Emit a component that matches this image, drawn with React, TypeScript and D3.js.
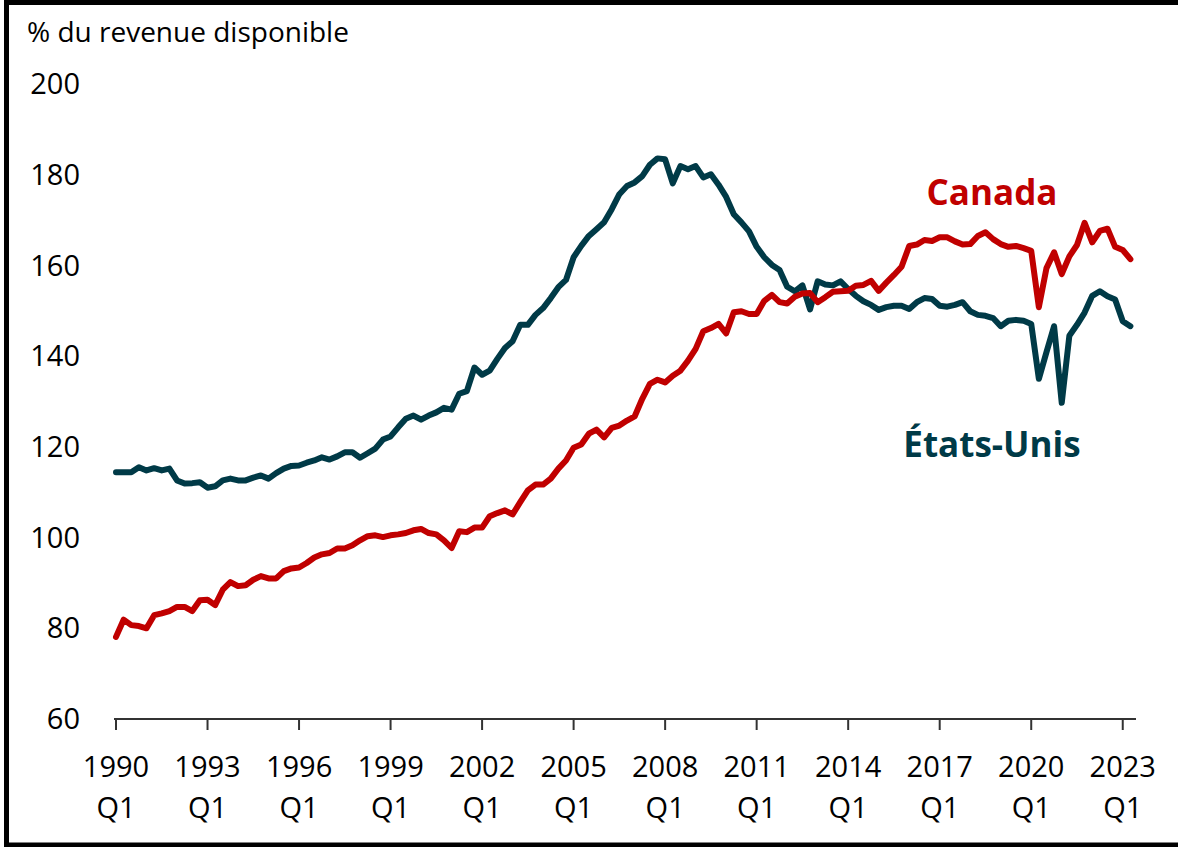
import React from 'react';
import * as d3 from 'd3';

// quarterly categories, 1990Q1 .. 2023Q2
const quarters: string[] = d3.range(1990, 2024).flatMap((y) => [1, 2, 3, 4].map((q) => `${y}Q${q}`)).slice(0, 134);

const tickYears = ['1990', '1993', '1996', '1999', '2002', '2005', '2008', '2011', '2014', '2017', '2020', '2023'];
const yTicks = [60, 80, 100, 120, 140, 160, 180, 200];

const canada = [
  78.1, 81.9, 80.7, 80.5, 80.0, 82.9, 83.3, 83.8, 84.7, 84.7,
  83.8, 86.2, 86.3, 85.1, 88.5, 90.2, 89.3, 89.5, 90.7, 91.5,
  91.0, 91.0, 92.6, 93.2, 93.4, 94.4, 95.6, 96.3, 96.6, 97.6,
  97.6, 98.3, 99.4, 100.3, 100.5, 100.1, 100.5, 100.7, 101.0, 101.6,
  101.9, 101.0, 100.7, 99.4, 97.7, 101.4, 101.2, 102.2, 102.2, 104.7,
  105.4, 106.0, 105.1, 107.8, 110.4, 111.7, 111.7, 113.0, 115.2, 117.0,
  119.8, 120.5, 122.9, 123.8, 122.1, 124.2, 124.7, 125.8, 126.7, 130.6,
  133.9, 134.8, 134.2, 135.7, 136.8, 139.0, 141.6, 145.5, 146.2, 147.1,
  145.0, 149.7, 149.9, 149.3, 149.3, 152.2, 153.5, 151.9, 151.6, 153.1,
  153.8, 153.9, 151.9, 153.0, 154.2, 154.3, 154.4, 155.5, 155.7, 156.6,
  154.4, 156.2, 157.9, 159.7, 164.3, 164.6, 165.6, 165.4, 166.2, 166.2,
  165.3, 164.6, 164.7, 166.5, 167.3, 165.8, 164.7, 164.1, 164.3, 163.8,
  163.2, 150.8, 159.4, 162.9, 158.1, 162.0, 164.5, 169.4, 165.1, 167.6,
  168.1, 164.1, 163.4, 161.4,
];

const usa = [
  114.4, 114.4, 114.4, 115.5, 114.8, 115.3, 114.8, 115.2, 112.6, 111.9,
  112.0, 112.2, 111.0, 111.3, 112.6, 113.0, 112.6, 112.6, 113.2, 113.7,
  113.0, 114.2, 115.2, 115.8, 115.9, 116.5, 117.0, 117.7, 117.2, 117.9,
  118.8, 118.8, 117.6, 118.6, 119.6, 121.6, 122.3, 124.3, 126.2, 126.9,
  126.0, 126.9, 127.6, 128.6, 128.2, 131.7, 132.3, 137.5, 135.9, 136.8,
  139.4, 141.8, 143.3, 146.9, 146.9, 149.1, 150.6, 152.8, 155.2, 156.8,
  161.8, 164.3, 166.5, 168.0, 169.5, 172.4, 175.7, 177.5, 178.3, 179.7,
  182.2, 183.6, 183.4, 178.1, 181.9, 181.2, 181.9, 179.4, 180.1, 177.8,
  175.1, 171.3, 169.5, 167.5, 164.1, 161.8, 160.1, 159.0, 155.3, 154.3,
  155.6, 150.3, 156.5, 155.8, 155.6, 156.5, 154.8, 153.3, 152.1, 151.3,
  150.2, 150.8, 151.1, 151.1, 150.4, 151.9, 152.8, 152.6, 151.1, 150.9,
  151.3, 151.9, 149.9, 149.1, 148.9, 148.4, 146.6, 147.8, 148.0, 147.8,
  147.1, 135.0, 140.9, 146.6, 129.7, 144.5, 146.9, 149.6, 153.3, 154.3,
  153.2, 152.5, 147.7, 146.6,
];

const RED = '#C00000';
const TEAL = '#003A47';
const FONT = '"Segoe UI", "Open Sans", sans-serif';

const W = 1178;
const H = 847;

export default function App() {
  const x = d3.scaleLinear().domain([0, quarters.length]).range([116, 1138]);
  const y = d3.scaleLinear().domain([60, 200]).range([719, 84]);

  const line = d3
    .line<number>()
    .x((_, i) => x(i))
    .y((d) => y(d));

  const tickIdx = tickYears.map((yr) => quarters.indexOf(`${yr}Q1`));

  return (
    <svg
      width={W}
      height={H}
      style={{ position: 'absolute', left: 0, top: 0, background: '#fff' }}
      fontFamily={FONT}
    >
      <rect x={6.5} y={2.5} width={1300} height={842.5} fill="#fff" stroke="#000" strokeWidth={5} />

      <text x={27} y={42} fontSize={28} fill="#000">% du revenue disponible</text>

      {yTicks.map((t) => (
        <text key={t} x={80} y={y(t)} dy="0.35em" textAnchor="end" fontSize={29} fill="#000">
          {t}
        </text>
      ))}

      <line x1={x(0) - 2} x2={x(quarters.length) - 2} y1={y(60)} y2={y(60)} stroke="#333" strokeWidth={2} />
      {tickIdx.map((i, k) => (
        <g key={k} transform={`translate(${x(i)},0)`}>
          <line y1={y(60)} y2={y(60) + 11} stroke="#333" strokeWidth={2} />
          <text y={777} textAnchor="middle" fontSize={29} fill="#000">{tickYears[k]}</text>
          <text y={818} textAnchor="middle" fontSize={29} fill="#000">Q1</text>
        </g>
      ))}

      <path d={line(usa) ?? ''} fill="none" stroke={TEAL} strokeWidth={6} strokeLinejoin="round" strokeLinecap="round" />
      <path d={line(canada) ?? ''} fill="none" stroke={RED} strokeWidth={6} strokeLinejoin="round" strokeLinecap="round" />

      <text x={992} y={205} textAnchor="middle" fontSize={35} fontWeight="bold" fill={RED}>Canada</text>
      <text x={992} y={457} textAnchor="middle" fontSize={35} fontWeight="bold" fill={TEAL}>États-Unis</text>
    </svg>
  );
}
